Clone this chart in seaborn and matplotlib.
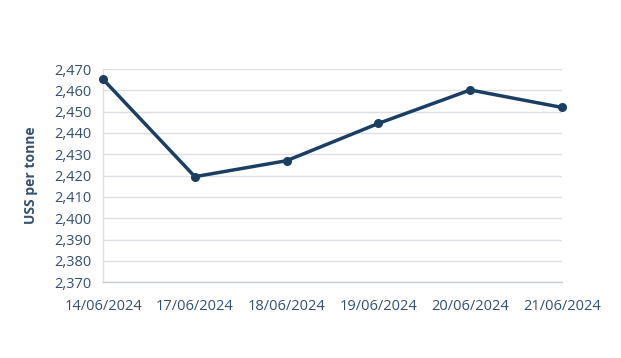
import matplotlib
matplotlib.use("Agg")
import matplotlib.pyplot as plt
import seaborn as sns
import pandas as pd
from matplotlib.ticker import FuncFormatter, MultipleLocator

# data
dates = ["14/06/2024", "17/06/2024", "18/06/2024", "19/06/2024", "20/06/2024", "21/06/2024"]
prices = [2465.2, 2419.5, 2427.0, 2444.5, 2460.2, 2452.0]

df = pd.DataFrame({"date": dates, "price": prices})
df["pos"] = range(len(df))

sns.set_theme(style="white")
plt.rcParams["font.family"] = ["Open Sans", "DejaVu Sans"]

line_col = "#1b3f63"
text_col = "#34506f"
grid_col = "#dcdfe3"

fig = plt.figure(figsize=(6.21, 3.58), dpi=100)
ax = fig.add_axes([0.166, 0.212, 0.739, 0.595])

sns.lineplot(data=df, x="pos", y="price", ax=ax, color=line_col, linewidth=2.5,
             marker="o", markersize=6.5, markeredgewidth=0, zorder=3, clip_on=False)

ax.set_xlim(0, len(dates) - 1)
ax.set_ylim(2370, 2470)
ax.yaxis.set_major_locator(MultipleLocator(10))
ax.yaxis.set_major_formatter(FuncFormatter(lambda v, p: f"{v:,.0f}"))
ax.set_xticks(df["pos"])
ax.set_xticklabels(dates)

ax.grid(axis="y", color=grid_col, linewidth=1)
ax.grid(axis="x", visible=False)
for side in ["top", "right"]:
    ax.spines[side].set_visible(False)
ax.spines["left"].set_color(grid_col)
ax.spines["bottom"].set_color("#c8cdd3")
ax.spines["left"].set_linewidth(1)
ax.spines["bottom"].set_linewidth(1)

ax.tick_params(axis="y", colors=text_col, labelsize=10.5, length=6, color=grid_col, pad=2)
ax.tick_params(axis="x", colors=text_col, labelsize=10.5, length=0, pad=12)
ax.set_xlabel("")
ax.set_ylabel("USS per tonne", color=text_col, fontsize=10, fontweight="bold", labelpad=12)

fig.savefig("out.png", dpi=100)
